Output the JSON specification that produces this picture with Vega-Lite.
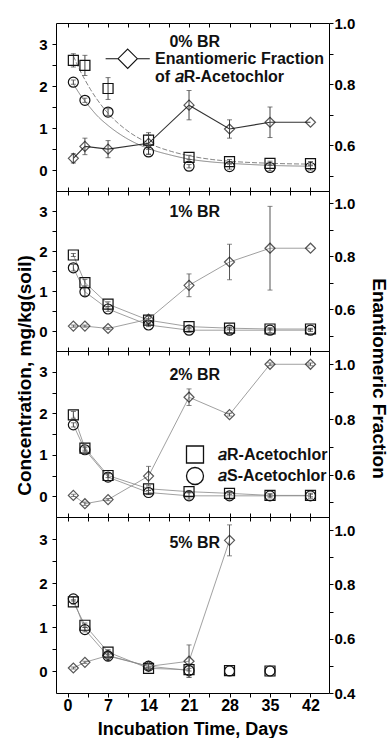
{
"$schema": "https://vega.github.io/schema/vega-lite/v6.json",
"background": "white",
"padding": {"left": 14, "top": 15, "right": 0, "bottom": 0},
"datasets": {
"pts": [
{"panel":"0% BR","day":1,"series":"aR","value":2.61,"err":0.16},
{"panel":"0% BR","day":3,"series":"aR","value":2.49,"err":0.24},
{"panel":"0% BR","day":7,"series":"aR","value":1.94,"err":0.26},
{"panel":"0% BR","day":14,"series":"aR","value":0.71,"err":0.12},
{"panel":"0% BR","day":21,"series":"aR","value":0.30,"err":0.05},
{"panel":"0% BR","day":28,"series":"aR","value":0.20,"err":0.05},
{"panel":"0% BR","day":35,"series":"aR","value":0.16,"err":0.05},
{"panel":"0% BR","day":42,"series":"aR","value":0.15,"err":0.05},
{"panel":"0% BR","day":1,"series":"aS","value":2.09,"err":0.05},
{"panel":"0% BR","day":3,"series":"aS","value":1.66,"err":0.05},
{"panel":"0% BR","day":7,"series":"aS","value":1.38,"err":0.08},
{"panel":"0% BR","day":14,"series":"aS","value":0.43,"err":0.06},
{"panel":"0% BR","day":21,"series":"aS","value":0.09,"err":0.04},
{"panel":"0% BR","day":28,"series":"aS","value":0.08,"err":0.06},
{"panel":"0% BR","day":35,"series":"aS","value":0.06,"err":0.08},
{"panel":"0% BR","day":42,"series":"aS","value":0.06,"err":0.06},
{"panel":"0% BR","day":1,"series":"EF","value":0.557,"err":0.015},
{"panel":"0% BR","day":3,"series":"EF","value":0.596,"err":0.027},
{"panel":"0% BR","day":7,"series":"EF","value":0.587,"err":0.028},
{"panel":"0% BR","day":14,"series":"EF","value":0.606,"err":0.035},
{"panel":"0% BR","day":21,"series":"EF","value":0.731,"err":0.048},
{"panel":"0% BR","day":28,"series":"EF","value":0.653,"err":0.03},
{"panel":"0% BR","day":35,"series":"EF","value":0.675,"err":0.05},
{"panel":"0% BR","day":42,"series":"EF","value":0.675,"err":null},
{"panel":"1% BR","day":1,"series":"aR","value":1.90,"err":0.04},
{"panel":"1% BR","day":3,"series":"aR","value":1.21,"err":0.08},
{"panel":"1% BR","day":7,"series":"aR","value":0.67,"err":0.06},
{"panel":"1% BR","day":14,"series":"aR","value":0.27,"err":0.04},
{"panel":"1% BR","day":21,"series":"aR","value":0.11,"err":0.03},
{"panel":"1% BR","day":28,"series":"aR","value":0.07,"err":0.03},
{"panel":"1% BR","day":35,"series":"aR","value":0.05,"err":0.02},
{"panel":"1% BR","day":42,"series":"aR","value":0.05,"err":0.02},
{"panel":"1% BR","day":1,"series":"aS","value":1.58,"err":0.08},
{"panel":"1% BR","day":3,"series":"aS","value":0.98,"err":0.1},
{"panel":"1% BR","day":7,"series":"aS","value":0.55,"err":0.06},
{"panel":"1% BR","day":14,"series":"aS","value":0.15,"err":0.04},
{"panel":"1% BR","day":21,"series":"aS","value":0.02,"err":0.05},
{"panel":"1% BR","day":28,"series":"aS","value":0.02,"err":0.06},
{"panel":"1% BR","day":35,"series":"aS","value":0.02,"err":0.06},
{"panel":"1% BR","day":42,"series":"aS","value":0.02,"err":0.03},
{"panel":"1% BR","day":1,"series":"EF","value":0.537,"err":0.004},
{"panel":"1% BR","day":3,"series":"EF","value":0.537,"err":0.004},
{"panel":"1% BR","day":7,"series":"EF","value":0.528,"err":0.004},
{"panel":"1% BR","day":14,"series":"EF","value":0.563,"err":0.01},
{"panel":"1% BR","day":21,"series":"EF","value":0.691,"err":0.043},
{"panel":"1% BR","day":28,"series":"EF","value":0.779,"err":0.067},
{"panel":"1% BR","day":35,"series":"EF","value":0.831,"err":0.158},
{"panel":"1% BR","day":42,"series":"EF","value":0.831,"err":null},
{"panel":"2% BR","day":1,"series":"aR","value":1.96,"err":0.08},
{"panel":"2% BR","day":3,"series":"aR","value":1.16,"err":0.05},
{"panel":"2% BR","day":7,"series":"aR","value":0.50,"err":0.05},
{"panel":"2% BR","day":14,"series":"aR","value":0.18,"err":0.04},
{"panel":"2% BR","day":21,"series":"aR","value":0.11,"err":0.03},
{"panel":"2% BR","day":28,"series":"aR","value":0.07,"err":0.03},
{"panel":"2% BR","day":35,"series":"aR","value":0.02,"err":0.03},
{"panel":"2% BR","day":42,"series":"aR","value":0.02,"err":0.03},
{"panel":"2% BR","day":1,"series":"aS","value":1.72,"err":0.05},
{"panel":"2% BR","day":3,"series":"aS","value":1.12,"err":0.05},
{"panel":"2% BR","day":7,"series":"aS","value":0.46,"err":0.08},
{"panel":"2% BR","day":14,"series":"aS","value":0.09,"err":0.05},
{"panel":"2% BR","day":21,"series":"aS","value":0.01,"err":0.08},
{"panel":"2% BR","day":28,"series":"aS","value":0.01,"err":0.08},
{"panel":"2% BR","day":35,"series":"aS","value":0.01,"err":0.05},
{"panel":"2% BR","day":42,"series":"aS","value":0.01,"err":0.06},
{"panel":"2% BR","day":1,"series":"EF","value":0.525,"err":0.004},
{"panel":"2% BR","day":3,"series":"EF","value":0.495,"err":0.006},
{"panel":"2% BR","day":7,"series":"EF","value":0.510,"err":0.004},
{"panel":"2% BR","day":14,"series":"EF","value":0.595,"err":0.035},
{"panel":"2% BR","day":21,"series":"EF","value":0.880,"err":0.03},
{"panel":"2% BR","day":28,"series":"EF","value":0.817,"err":0.005},
{"panel":"2% BR","day":35,"series":"EF","value":0.999,"err":0.005},
{"panel":"2% BR","day":42,"series":"EF","value":0.999,"err":0.005},
{"panel":"5% BR","day":1,"series":"aR","value":1.57,"err":0.05},
{"panel":"5% BR","day":3,"series":"aR","value":1.04,"err":0.05},
{"panel":"5% BR","day":7,"series":"aR","value":0.43,"err":0.05},
{"panel":"5% BR","day":14,"series":"aR","value":0.06,"err":0.03},
{"panel":"5% BR","day":21,"series":"aR","value":0.03,"err":0.03},
{"panel":"5% BR","day":28,"series":"aR","value":0.01,"err":null},
{"panel":"5% BR","day":35,"series":"aR","value":0.0,"err":null},
{"panel":"5% BR","day":1,"series":"aS","value":1.64,"err":0.05},
{"panel":"5% BR","day":3,"series":"aS","value":0.94,"err":0.05},
{"panel":"5% BR","day":7,"series":"aS","value":0.34,"err":0.1},
{"panel":"5% BR","day":14,"series":"aS","value":0.11,"err":0.04},
{"panel":"5% BR","day":21,"series":"aS","value":0.01,"err":0.15},
{"panel":"5% BR","day":28,"series":"aS","value":0.0,"err":null},
{"panel":"5% BR","day":35,"series":"aS","value":0.0,"err":null},
{"panel":"5% BR","day":1,"series":"EF","value":0.492,"err":0.004},
{"panel":"5% BR","day":3,"series":"EF","value":0.513,"err":0.004},
{"panel":"5% BR","day":7,"series":"EF","value":0.538,"err":0.02},
{"panel":"5% BR","day":14,"series":"EF","value":0.498,"err":0.01},
{"panel":"5% BR","day":21,"series":"EF","value":0.517,"err":0.06},
{"panel":"5% BR","day":28,"series":"EF","value":0.962,"err":0.057}
],
"fit": [
{"panel":"0% BR","series":"fitR","day":1,"value":2.72},
{"panel":"0% BR","series":"fitR","day":2,"value":2.41},
{"panel":"0% BR","series":"fitR","day":3,"value":2.15},
{"panel":"0% BR","series":"fitR","day":4,"value":1.91},
{"panel":"0% BR","series":"fitR","day":5,"value":1.70},
{"panel":"0% BR","series":"fitR","day":7,"value":1.35},
{"panel":"0% BR","series":"fitR","day":10,"value":0.97},
{"panel":"0% BR","series":"fitR","day":14,"value":0.64},
{"panel":"0% BR","series":"fitR","day":18,"value":0.44},
{"panel":"0% BR","series":"fitR","day":21,"value":0.34},
{"panel":"0% BR","series":"fitR","day":25,"value":0.25},
{"panel":"0% BR","series":"fitR","day":28,"value":0.21},
{"panel":"0% BR","series":"fitR","day":35,"value":0.16},
{"panel":"0% BR","series":"fitR","day":42,"value":0.14},
{"panel":"0% BR","series":"fitS","day":1,"value":2.05},
{"panel":"0% BR","series":"fitS","day":2,"value":1.83},
{"panel":"0% BR","series":"fitS","day":3,"value":1.64},
{"panel":"0% BR","series":"fitS","day":4,"value":1.47},
{"panel":"0% BR","series":"fitS","day":5,"value":1.31},
{"panel":"0% BR","series":"fitS","day":7,"value":1.06},
{"panel":"0% BR","series":"fitS","day":10,"value":0.77},
{"panel":"0% BR","series":"fitS","day":14,"value":0.51},
{"panel":"0% BR","series":"fitS","day":18,"value":0.35},
{"panel":"0% BR","series":"fitS","day":21,"value":0.26},
{"panel":"0% BR","series":"fitS","day":25,"value":0.19},
{"panel":"0% BR","series":"fitS","day":28,"value":0.16},
{"panel":"0% BR","series":"fitS","day":35,"value":0.11},
{"panel":"0% BR","series":"fitS","day":42,"value":0.09}
]
},
"spacing": 0,
"bounds": "flush",
"resolve": {"scale": {"x": "independent", "y": "independent", "shape": "independent", "strokeDash": "independent"}, "legend": {"shape": "independent"}},
"vconcat": [
{
 "width": 273, "height": 168,
 "data": {"name": "pts"},
 "transform": [{"filter": "datum.panel == '0% BR'"}],
 "layer": [
  {"layer": [
   {"data": {"name": "fit"},
    "mark": {"type": "line", "interpolate": "monotone", "color": "#777", "strokeWidth": 0.9},
    "encoding": {
     "x": {"field": "day", "type": "quantitative", "scale": {"domain": [-2, 45.2], "nice": false, "zero": false},
           "axis": {"orient": "bottom", "values": [0,3.5,7,10.5,14,17.5,21,24.5,28,31.5,35,38.5,42], "tickCount": 100, "labels": false, "tickSize": -4, "title": null}},
     "y": {"field": "value", "type": "quantitative", "scale": {"domain": [-0.5, 3.5], "nice": false, "zero": false},
           "axis": {"orient": "left", "values": [0,0.5,1,1.5,2,2.5,3], "tickCount": 100, "labelExpr": "datum.value % 1 == 0 ? format(datum.value, 'd') : ''", "tickSize": 4, "labelPadding": 5, "labelFontSize": 15, "labelOverlap": false, "labelFlush": false, "title": null}},
     "strokeDash": {"field": "series", "type": "nominal", "scale": {"domain": ["fitR", "fitS"], "range": [[5, 2], [1, 0]]}, "legend": null}
    }},
   {"transform": [{"filter": "datum.series != 'EF' && datum.err > 0"}],
    "mark": {"type": "errorbar", "ticks": true, "color": "#444"},
    "encoding": {"x": {"field": "day", "type": "quantitative"}, "y": {"field": "value", "type": "quantitative", "title": null}, "yError": {"field": "err"}}},
   {"transform": [{"filter": "datum.series != 'EF'"}],
    "mark": {"type": "point", "filled": false, "size": 100, "strokeWidth": 1.2, "color": "#111", "opacity": 1},
    "encoding": {"x": {"field": "day", "type": "quantitative"}, "y": {"field": "value", "type": "quantitative"},
     "shape": {"field": "series", "type": "nominal", "scale": {"domain": ["aR", "aS"], "range": ["square", "circle"]}, "legend": null}}},
   {"data": {"values": [{}]},
    "mark": {"type": "text", "fontSize": 16, "fontWeight": "bold", "font": "Liberation Sans", "color": "#111"},
    "encoding": {"x": {"datum": 22}, "y": {"datum": 3.04}, "text": {"value": "0% BR"}}}
  ]},
  {"layer": [
   {"transform": [{"filter": "datum.series == 'EF'"}],
    "mark": {"type": "line", "color": "#333", "strokeWidth": 1.1},
    "encoding": {
     "x": {"field": "day", "type": "quantitative", "scale": {"domain": [-2, 45.2], "nice": false, "zero": false},
           "axis": {"orient": "top", "values": [0,3.5,7,10.5,14,17.5,21,24.5,28,31.5,35,38.5,42], "tickCount": 100, "labels": false, "tickSize": -4, "title": null}},
     "y": {"field": "value", "type": "quantitative", "scale": {"domain": [0.45, 1.0], "nice": false, "zero": false},
           "axis": {"orient": "right", "values": [0.5,0.6,0.7,0.8,0.9,1.0], "tickCount": 100, "labelExpr": "abs(datum.value*5 - round(datum.value*5)) < 0.001 ? format(datum.value, '.1f') : ''", "tickSize": 4, "labelPadding": 1, "labelFontSize": 15, "labelOverlap": false, "labelFlush": false, "title": null}}
    }},
   {"transform": [{"filter": "datum.series == 'EF' && datum.err > 0"}],
    "mark": {"type": "errorbar", "ticks": true, "color": "#444"},
    "encoding": {"x": {"field": "day", "type": "quantitative"}, "y": {"field": "value", "type": "quantitative", "title": null}, "yError": {"field": "err"}}},
   {"transform": [{"filter": "datum.series == 'EF'"}],
    "mark": {"type": "point", "shape": "diamond", "filled": false, "size": 100, "strokeWidth": 1.2, "color": "#111"},
    "encoding": {"x": {"field": "day", "type": "quantitative"}, "y": {"field": "value", "type": "quantitative"}}},
   {"transform": [{"filter": "datum.series == 'EF'"}],
    "mark": {"type": "point", "filled": false, "size": 100, "opacity": 0, "color": "#111"},
    "encoding": {"x": {"field": "day", "type": "quantitative"}, "y": {"field": "value", "type": "quantitative"},
     "shape": {"datum": "EF", "scale": {"domain": ["EF"], "range": ["M-1.6,0H-0.7M0.7,0H1.6M0,-0.7L0.7,0L0,0.7L-0.7,0Z"]},
      "legend": {"orient": "none", "legendX": 57.2, "legendY": 21.2, "title": null, "padding": 0, "symbolSize": 762, "symbolOpacity": 1, "symbolStrokeColor": "#111", "symbolFillColor": "transparent", "symbolStrokeWidth": 1.1, "labelExpr": "['Enantiomeric Fraction', 'of 𝑎R-Acetochlor']", "labelFontSize": 16, "labelFont": "Liberation Sans", "labelFontWeight": "bold", "labelColor": "#111", "labelOffset": 12.9, "labelLimit": 400, "labelBaseline": "middle"}}}}
  ]}
 ],
 "resolve": {"scale": {"y": "independent", "shape": "independent"}, "axis": {"x": "independent"}}
},
{
 "width": 273, "height": 160,
 "data": {"name": "pts"},
 "transform": [{"filter": "datum.panel == '1% BR'"}],
 "layer": [
  {"layer": [
   {"transform": [{"filter": "datum.series != 'EF'"}],
    "mark": {"type": "line", "color": "#888", "strokeWidth": 0.8},
    "encoding": {
     "x": {"field": "day", "type": "quantitative", "scale": {"domain": [-2, 45.2], "nice": false, "zero": false},
           "axis": {"orient": "bottom", "values": [0,3.5,7,10.5,14,17.5,21,24.5,28,31.5,35,38.5,42], "tickCount": 100, "labels": false, "tickSize": -4, "title": null}},
     "y": {"field": "value", "type": "quantitative", "scale": {"domain": [-0.5, 3.5], "nice": false, "zero": false},
           "axis": {"orient": "left", "values": [0,0.5,1,1.5,2,2.5,3], "tickCount": 100, "labelExpr": "datum.value % 1 == 0 ? format(datum.value, 'd') : ''", "tickSize": 4, "labelPadding": 5, "labelFontSize": 15, "labelOverlap": false, "labelFlush": false,
                    "title": "Concentration, mg/kg(soil)", "titleFontSize": 19, "titleX": -22, "titleY": 184, "titleAngle": -90, "titleBaseline": "bottom", "titleAlign": "center"}},
     "detail": {"field": "series", "type": "nominal"}
    }},
   {"transform": [{"filter": "datum.series != 'EF' && datum.err > 0"}],
    "mark": {"type": "errorbar", "ticks": true, "color": "#444"},
    "encoding": {"x": {"field": "day", "type": "quantitative"}, "y": {"field": "value", "type": "quantitative", "title": "Concentration, mg/kg(soil)"}, "yError": {"field": "err"}}},
   {"transform": [{"filter": "datum.series != 'EF'"}],
    "mark": {"type": "point", "filled": false, "size": 100, "strokeWidth": 1.2, "color": "#111", "opacity": 1},
    "encoding": {"x": {"field": "day", "type": "quantitative"}, "y": {"field": "value", "type": "quantitative"},
     "shape": {"field": "series", "type": "nominal", "scale": {"domain": ["aR", "aS"], "range": ["square", "circle"]}, "legend": null}}},
   {"data": {"values": [{}]},
    "mark": {"type": "text", "fontSize": 16, "fontWeight": "bold", "font": "Liberation Sans", "color": "#111"},
    "encoding": {"x": {"datum": 22}, "y": {"datum": 2.97}, "text": {"value": "1% BR"}}}
  ]},
  {"layer": [
   {"transform": [{"filter": "datum.series == 'EF'"}],
    "mark": {"type": "line", "color": "#888", "strokeWidth": 0.8},
    "encoding": {
     "x": {"field": "day", "type": "quantitative", "scale": {"domain": [-2, 45.2], "nice": false, "zero": false},
           "axis": {"orient": "top", "values": [0,3.5,7,10.5,14,17.5,21,24.5,28,31.5,35,38.5,42], "tickCount": 100, "labels": false, "tickSize": -4, "title": null}},
     "y": {"field": "value", "type": "quantitative", "scale": {"domain": [0.443, 1.047], "nice": false, "zero": false},
           "axis": {"orient": "right", "values": [0.5,0.6,0.7,0.8,0.9,1.0], "tickCount": 100, "labelExpr": "abs(datum.value*5 - round(datum.value*5)) < 0.001 ? format(datum.value, '.1f') : ''", "tickSize": 4, "labelPadding": 1, "labelFontSize": 15, "labelOverlap": false, "labelFlush": false,
                    "title": "Enantiomeric Fraction", "titleFontSize": 19, "titleX": 39, "titleY": 187, "titleAngle": 90, "titleBaseline": "bottom", "titleAlign": "center"}}
    }},
   {"transform": [{"filter": "datum.series == 'EF' && datum.err > 0"}],
    "mark": {"type": "errorbar", "ticks": true, "color": "#555"},
    "encoding": {"x": {"field": "day", "type": "quantitative"}, "y": {"field": "value", "type": "quantitative", "title": "Enantiomeric Fraction"}, "yError": {"field": "err"}}},
   {"transform": [{"filter": "datum.series == 'EF'"}],
    "mark": {"type": "point", "shape": "diamond", "filled": false, "size": 100, "strokeWidth": 1.2, "color": "#111"},
    "encoding": {"x": {"field": "day", "type": "quantitative"}, "y": {"field": "value", "type": "quantitative"}}}
  ]}
 ],
 "resolve": {"scale": {"y": "independent", "shape": "independent"}, "axis": {"x": "independent"}}
},
{
 "width": 273, "height": 166,
 "data": {"name": "pts"},
 "transform": [{"filter": "datum.panel == '2% BR'"}],
 "layer": [
  {"layer": [
   {"transform": [{"filter": "datum.series != 'EF'"}],
    "mark": {"type": "line", "color": "#888", "strokeWidth": 0.8},
    "encoding": {
     "x": {"field": "day", "type": "quantitative", "scale": {"domain": [-2, 45.2], "nice": false, "zero": false},
           "axis": {"orient": "bottom", "values": [0,3.5,7,10.5,14,17.5,21,24.5,28,31.5,35,38.5,42], "tickCount": 100, "labels": false, "tickSize": -4, "title": null}},
     "y": {"field": "value", "type": "quantitative", "scale": {"domain": [-0.5, 3.5], "nice": false, "zero": false},
           "axis": {"orient": "left", "values": [0,0.5,1,1.5,2,2.5,3], "tickCount": 100, "labelExpr": "datum.value % 1 == 0 ? format(datum.value, 'd') : ''", "tickSize": 4, "labelPadding": 5, "labelFontSize": 15, "labelOverlap": false, "labelFlush": false, "title": null}},
     "detail": {"field": "series", "type": "nominal"}
    }},
   {"transform": [{"filter": "datum.series != 'EF' && datum.err > 0"}],
    "mark": {"type": "errorbar", "ticks": true, "color": "#444"},
    "encoding": {"x": {"field": "day", "type": "quantitative"}, "y": {"field": "value", "type": "quantitative", "title": null}, "yError": {"field": "err"}}},
   {"transform": [{"filter": "datum.series != 'EF'"}],
    "mark": {"type": "point", "filled": false, "size": 100, "strokeWidth": 1.2, "color": "#111", "opacity": 1},
    "encoding": {"x": {"field": "day", "type": "quantitative"}, "y": {"field": "value", "type": "quantitative"},
     "shape": {"field": "series", "type": "nominal", "scale": {"domain": ["aR", "aS"], "range": ["square", "circle"]},
      "legend": {"orient": "none", "legendX": 129.5, "legendY": 94, "title": null, "padding": 0, "symbolSize": 289, "symbolStrokeWidth": 1.3, "symbolStrokeColor": "#111", "symbolFillColor": "transparent", "labelFontSize": 16, "labelFont": "Liberation Sans", "labelFontWeight": "bold", "labelColor": "#111", "labelOffset": 13.5, "rowPadding": -1.5, "labelLimit": 400,
                 "labelExpr": "datum.value == 'aR' ? '𝑎R-Acetochlor' : '𝑎S-Acetochlor'"}}}},
   {"data": {"values": [{}]},
    "mark": {"type": "text", "fontSize": 16, "fontWeight": "bold", "font": "Liberation Sans", "color": "#111"},
    "encoding": {"x": {"datum": 22}, "y": {"datum": 2.91}, "text": {"value": "2% BR"}}}
  ]},
  {"layer": [
   {"transform": [{"filter": "datum.series == 'EF'"}],
    "mark": {"type": "line", "color": "#888", "strokeWidth": 0.8},
    "encoding": {
     "x": {"field": "day", "type": "quantitative", "scale": {"domain": [-2, 45.2], "nice": false, "zero": false},
           "axis": {"orient": "top", "values": [0,3.5,7,10.5,14,17.5,21,24.5,28,31.5,35,38.5,42], "tickCount": 100, "labels": false, "tickSize": -4, "title": null}},
     "y": {"field": "value", "type": "quantitative", "scale": {"domain": [0.447, 1.047], "nice": false, "zero": false},
           "axis": {"orient": "right", "values": [0.5,0.6,0.7,0.8,0.9,1.0], "tickCount": 100, "labelExpr": "abs(datum.value*5 - round(datum.value*5)) < 0.001 ? format(datum.value, '.1f') : ''", "tickSize": 4, "labelPadding": 1, "labelFontSize": 15, "labelOverlap": false, "labelFlush": false, "title": null}}
    }},
   {"transform": [{"filter": "datum.series == 'EF' && datum.err > 0"}],
    "mark": {"type": "errorbar", "ticks": true, "color": "#555"},
    "encoding": {"x": {"field": "day", "type": "quantitative"}, "y": {"field": "value", "type": "quantitative", "title": null}, "yError": {"field": "err"}}},
   {"transform": [{"filter": "datum.series == 'EF'"}],
    "mark": {"type": "point", "shape": "diamond", "filled": false, "size": 100, "strokeWidth": 1.2, "color": "#111"},
    "encoding": {"x": {"field": "day", "type": "quantitative"}, "y": {"field": "value", "type": "quantitative"}}}
  ]}
 ],
 "resolve": {"scale": {"y": "independent", "shape": "independent"}, "axis": {"x": "independent"}}
},
{
 "width": 273, "height": 176,
 "data": {"name": "pts"},
 "transform": [{"filter": "datum.panel == '5% BR'"}],
 "layer": [
  {"layer": [
   {"transform": [{"filter": "datum.series != 'EF' && datum.day <= 21"}],
    "mark": {"type": "line", "color": "#888", "strokeWidth": 0.8},
    "encoding": {
     "x": {"field": "day", "type": "quantitative", "scale": {"domain": [-2, 45.2], "nice": false, "zero": false},
           "axis": {"orient": "bottom", "values": [0,3.5,7,10.5,14,17.5,21,24.5,28,31.5,35,38.5,42], "tickCount": 100, "labelExpr": "datum.value % 7 == 0 ? format(datum.value, 'd') : ''", "tickSize": 4, "labelPadding": 0, "labelFontSize": 16, "labelOverlap": false, "labelFlush": false,
                    "title": "Incubation Time, Days", "titleFontSize": 18, "titlePadding": 7}},
     "y": {"field": "value", "type": "quantitative", "scale": {"domain": [-0.5, 3.5], "nice": false, "zero": false},
           "axis": {"orient": "left", "values": [0,0.5,1,1.5,2,2.5,3], "tickCount": 100, "labelExpr": "datum.value % 1 == 0 ? format(datum.value, 'd') : ''", "tickSize": 4, "labelPadding": 5, "labelFontSize": 15, "labelOverlap": false, "labelFlush": false, "title": null}},
     "detail": {"field": "series", "type": "nominal"}
    }},
   {"transform": [{"filter": "datum.series != 'EF' && datum.err > 0"}],
    "mark": {"type": "errorbar", "ticks": true, "color": "#444"},
    "encoding": {"x": {"field": "day", "type": "quantitative"}, "y": {"field": "value", "type": "quantitative", "title": null}, "yError": {"field": "err"}}},
   {"transform": [{"filter": "datum.series != 'EF'"}],
    "mark": {"type": "point", "filled": false, "size": 100, "strokeWidth": 1.2, "color": "#111", "opacity": 1},
    "encoding": {"x": {"field": "day", "type": "quantitative"}, "y": {"field": "value", "type": "quantitative"},
     "shape": {"field": "series", "type": "nominal", "scale": {"domain": ["aR", "aS"], "range": ["square", "circle"]}, "legend": null}}},
   {"data": {"values": [{}]},
    "mark": {"type": "text", "fontSize": 16, "fontWeight": "bold", "font": "Liberation Sans", "color": "#111"},
    "encoding": {"x": {"datum": 22}, "y": {"datum": 2.9}, "text": {"value": "5% BR"}}}
  ]},
  {"layer": [
   {"transform": [{"filter": "datum.series == 'EF'"}],
    "mark": {"type": "line", "color": "#888", "strokeWidth": 0.8},
    "encoding": {
     "x": {"field": "day", "type": "quantitative", "scale": {"domain": [-2, 45.2], "nice": false, "zero": false},
           "axis": {"orient": "top", "values": [0,3.5,7,10.5,14,17.5,21,24.5,28,31.5,35,38.5,42], "tickCount": 100, "labels": false, "tickSize": -4, "title": null}},
     "y": {"field": "value", "type": "quantitative", "scale": {"domain": [0.4, 1.048], "nice": false, "zero": false},
           "axis": {"orient": "right", "values": [0.4,0.5,0.6,0.7,0.8,0.9,1.0], "tickCount": 100, "labelExpr": "abs(datum.value*5 - round(datum.value*5)) < 0.001 ? format(datum.value, '.1f') : ''", "tickSize": 4, "labelPadding": 1, "labelFontSize": 15, "labelOverlap": false, "labelFlush": false, "title": null}}
    }},
   {"transform": [{"filter": "datum.series == 'EF' && datum.err > 0"}],
    "mark": {"type": "errorbar", "ticks": true, "color": "#555"},
    "encoding": {"x": {"field": "day", "type": "quantitative"}, "y": {"field": "value", "type": "quantitative", "title": null}, "yError": {"field": "err"}}},
   {"transform": [{"filter": "datum.series == 'EF'"}],
    "mark": {"type": "point", "shape": "diamond", "filled": false, "size": 100, "strokeWidth": 1.2, "color": "#111"},
    "encoding": {"x": {"field": "day", "type": "quantitative"}, "y": {"field": "value", "type": "quantitative"}}}
  ]}
 ],
 "resolve": {"scale": {"y": "independent", "shape": "independent"}, "axis": {"x": "independent"}}
}
],
"config": {
 "font": "Liberation Sans",
 "view": {"stroke": "#000", "strokeWidth": 1},
 "axis": {"grid": false, "domain": false, "labelFont": "Liberation Sans", "labelFontWeight": "bold", "labelColor": "#000", "tickColor": "#000", "tickWidth": 1, "titleFont": "Liberation Sans", "titleFontWeight": "bold", "titleColor": "#000"}
}
}
